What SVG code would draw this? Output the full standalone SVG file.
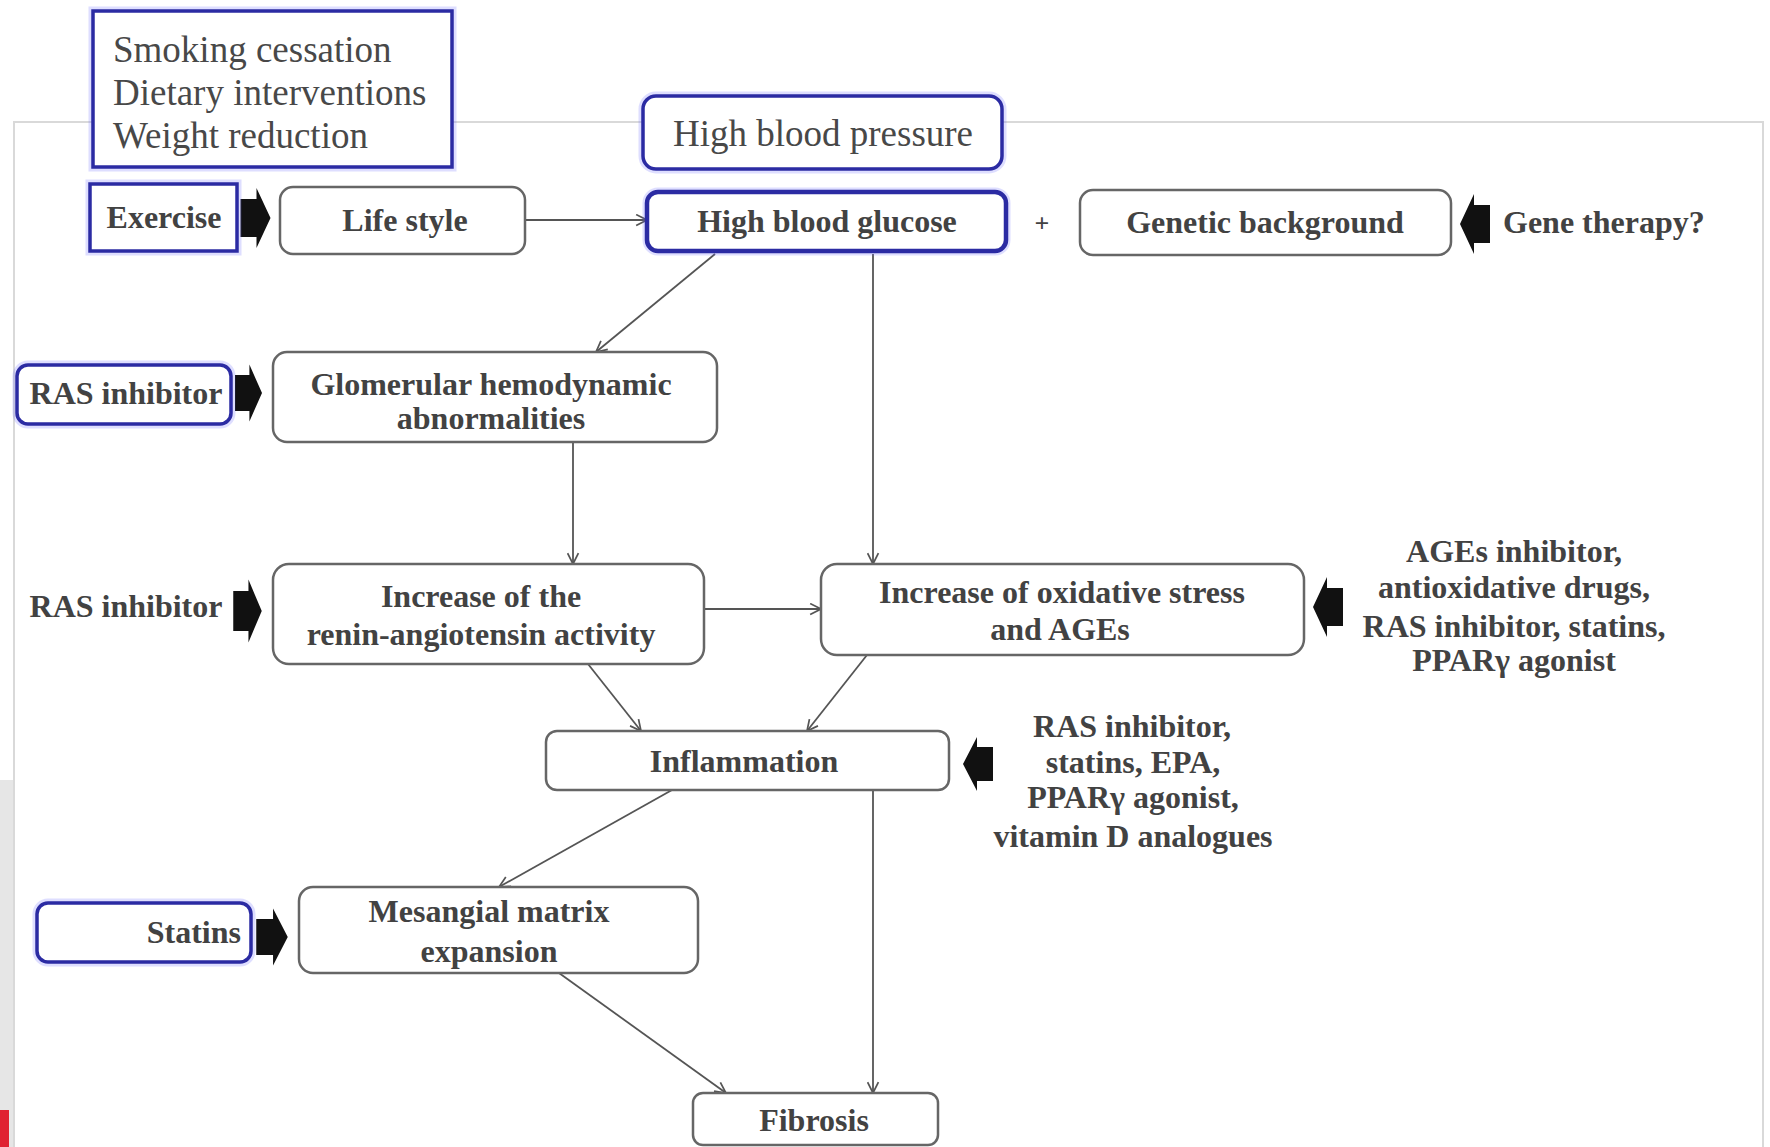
<svg xmlns="http://www.w3.org/2000/svg" width="1770" height="1147" viewBox="0 0 1770 1147">
<style>
.frame{fill:none;stroke:#d9d9d9;stroke-width:2}
.node{fill:#fff;stroke:#666;stroke-width:2.5}
.blue{fill:#fff;stroke:#2b2ba3;stroke-width:3.5}
.glow{fill:none;stroke:#6a6aff;stroke-opacity:.22;stroke-width:9}
.t{font-family:"Liberation Serif","Times New Roman",serif;font-weight:bold;font-size:32px;fill:#424242}
.tr{font-family:"Liberation Serif","Times New Roman",serif;font-size:37px;fill:#484848}
.c{text-anchor:middle}
.conn{fill:none;stroke:#555;stroke-width:1.8}
.blk{fill:#111}
</style>
<defs>
<marker id="arr" viewBox="0 0 12 12" refX="11" refY="6" markerWidth="13" markerHeight="13" markerUnits="userSpaceOnUse" orient="auto">
<path d="M1,1 L11,6 L1,11" fill="none" stroke="#555" stroke-width="1.6"/>
</marker>
<path id="blkarrow" d="M-15,-19 L1,-19 L1,-30 L15,0 L1,30 L1,19 L-15,19 Z"/>
</defs>
<rect x="0" y="0" width="1770" height="1147" fill="#fff"/>
<rect x="0" y="780" width="13" height="367" fill="#e6e6e6"/>
<rect x="0" y="1110" width="9" height="37" fill="#e02232"/>
<rect class="frame" x="14" y="122" width="1749" height="1100"/>

<g id="connectors">
<path class="conn" d="M525,220 L647,220" marker-end="url(#arr)"/>
<path class="conn" d="M715,254 L596,352" marker-end="url(#arr)"/>
<path class="conn" d="M873,254 L873,564" marker-end="url(#arr)"/>
<path class="conn" d="M573,442 L573,564" marker-end="url(#arr)"/>
<path class="conn" d="M704,609 L821,609" marker-end="url(#arr)"/>
<path class="conn" d="M588,664 L641,731" marker-end="url(#arr)"/>
<path class="conn" d="M867,655 L807,731" marker-end="url(#arr)"/>
<path class="conn" d="M672,790 L499,887" marker-end="url(#arr)"/>
<path class="conn" d="M873,790 L873,1093" marker-end="url(#arr)"/>
<path class="conn" d="M559,973 L726,1093" marker-end="url(#arr)"/>
<use href="#blkarrow" class="blk" transform="translate(255.5,218)"/>
<use href="#blkarrow" class="blk" transform="translate(248.5,393) scale(0.9,0.95)"/>
<use href="#blkarrow" class="blk" transform="translate(247.5,611) scale(0.95,1.05)"/>
<use href="#blkarrow" class="blk" transform="translate(272,937) scale(1.05,0.95)"/>
<use href="#blkarrow" class="blk" transform="translate(1475,224) scale(-1,1)"/>
<use href="#blkarrow" class="blk" transform="translate(1328,607) scale(-1,1)"/>
<use href="#blkarrow" class="blk" transform="translate(978,764) scale(-1,0.9)"/>
</g>

<g id="n-lifestyle-options">
<rect class="glow" x="93" y="11" width="359" height="156"/>
<rect class="blue" x="93" y="11" width="359" height="156"/>
<text class="tr" x="113" y="62">Smoking cessation</text>
<text class="tr" x="113" y="105">Dietary interventions</text>
<text class="tr" x="113" y="148">Weight reduction</text>
</g>

<g id="n-hbp">
<rect class="glow" x="643" y="96" width="359" height="73" rx="13"/>
<rect class="blue" x="643" y="96" width="359" height="73" rx="13"/>
<text class="tr c" x="823" y="146">High blood pressure</text>
</g>

<g id="n-exercise">
<rect class="glow" x="90" y="184" width="147" height="67"/>
<rect class="blue" x="90" y="184" width="147" height="67"/>
<text class="t c" x="164" y="228">Exercise</text>
</g>

<g id="n-lifestyle">
<rect class="node" x="280" y="187" width="245" height="67" rx="13"/>
<text class="t c" x="405" y="231">Life style</text>
</g>

<g id="n-hbg">
<rect class="glow" x="647" y="192" width="359" height="59" rx="11"/>
<rect class="blue" x="647" y="192" width="359" height="59" rx="11" style="stroke-width:4.5"/>
<text class="t c" x="827" y="232">High blood glucose</text>
</g>

<g id="n-plus">
<text class="t c" x="1042" y="232" style="font-size:26px">+</text>
</g>

<g id="n-genetic">
<rect class="node" x="1080" y="190" width="371" height="65" rx="13"/>
<text class="t c" x="1265" y="233">Genetic background</text>
</g>

<g id="n-gene-therapy">
<text class="t" x="1503" y="233">Gene therapy?</text>
</g>

<g id="n-ras1">
<rect class="glow" x="17" y="365" width="214" height="59" rx="11"/>
<rect class="blue" x="17" y="365" width="214" height="59" rx="11"/>
<text class="t c" x="126" y="404">RAS inhibitor</text>
</g>

<g id="n-glomerular">
<rect class="node" x="273" y="352" width="444" height="90" rx="14"/>
<text class="t c" x="491" y="395">Glomerular hemodynamic</text>
<text class="t c" x="491" y="429">abnormalities</text>
</g>

<g id="n-ras2">
<text class="t c" x="126" y="617">RAS inhibitor</text>
</g>

<g id="n-renin">
<rect class="node" x="273" y="564" width="431" height="100" rx="16"/>
<text class="t c" x="481" y="607">Increase of the</text>
<text class="t c" x="481" y="645">renin-angiotensin activity</text>
</g>

<g id="n-oxidative">
<rect class="node" x="821" y="564" width="483" height="91" rx="16"/>
<text class="t c" x="1062" y="603">Increase of oxidative stress</text>
<text class="t c" x="1060" y="640">and AGEs</text>
</g>

<g id="n-ages-drugs">
<text class="t c" x="1514" y="562">AGEs inhibitor,</text>
<text class="t c" x="1514" y="598">antioxidative drugs,</text>
<text class="t c" x="1514" y="637">RAS inhibitor, statins,</text>
<text class="t c" x="1514" y="671">PPARγ agonist</text>
</g>

<g id="n-inflammation">
<rect class="node" x="546" y="731" width="403" height="59" rx="11"/>
<text class="t c" x="744" y="772">Inflammation</text>
</g>

<g id="n-infl-drugs">
<text class="t c" x="1132" y="737">RAS inhibitor,</text>
<text class="t c" x="1133" y="773">statins, EPA,</text>
<text class="t c" x="1133" y="808">PPARγ agonist,</text>
<text class="t c" x="1133" y="847">vitamin D analogues</text>
</g>

<g id="n-statins">
<rect class="glow" x="37" y="903" width="214" height="59" rx="11"/>
<rect class="blue" x="37" y="903" width="214" height="59" rx="11"/>
<text class="t" x="241" y="943" text-anchor="end">Statins</text>
</g>

<g id="n-mesangial">
<rect class="node" x="299" y="887" width="399" height="86" rx="14"/>
<text class="t c" x="489" y="922">Mesangial matrix</text>
<text class="t c" x="489" y="962">expansion</text>
</g>

<g id="n-fibrosis">
<rect class="node" x="693" y="1093" width="245" height="52" rx="10"/>
<text class="t c" x="814" y="1131">Fibrosis</text>
</g>
</svg>
